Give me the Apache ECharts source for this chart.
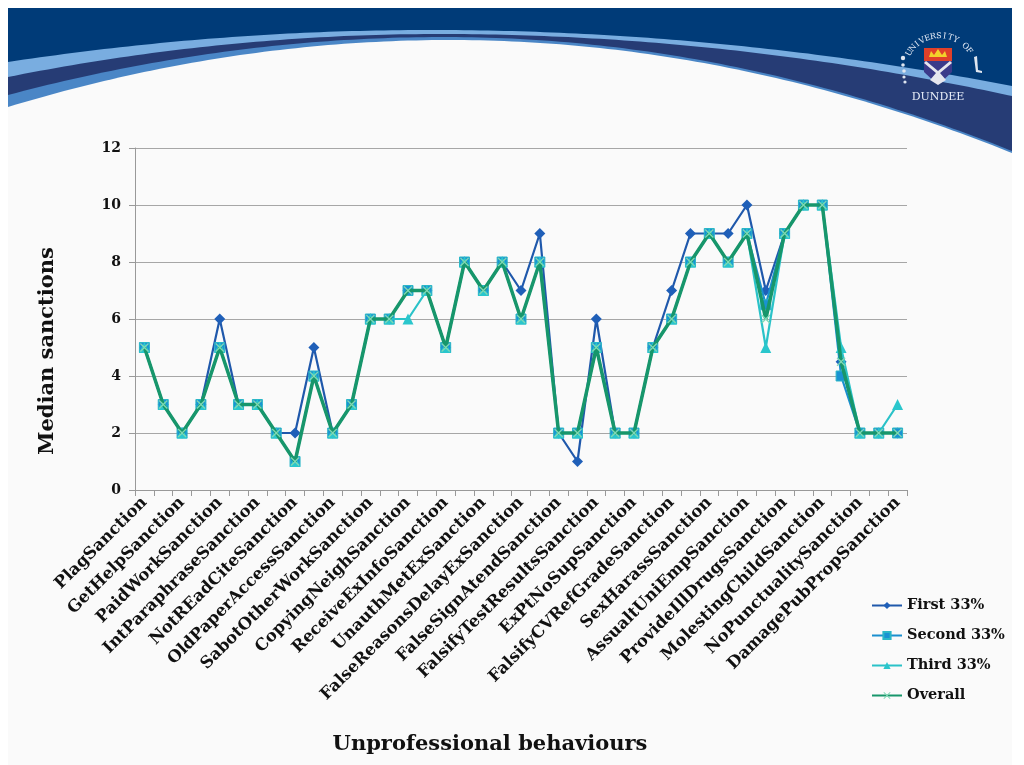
<!DOCTYPE html>
<html>
<head>
<meta charset="utf-8">
<script src="https://cdn.jsdelivr.net/npm/echarts@6/dist/echarts.min.js"></script>
<style>
  html, body { margin: 0; padding: 0; background: #ffffff; }
  #main { width: 1024px; height: 765px; }
</style>
</head>
<body>
<div id="main"></div>
<script>
// categories: only every other name is printed on the slide, the rest are unlabeled
var categories = [
  'PlagSanction', '', 'GetHelpSanction', '', 'PaidWorkSanction', '',
  'IntParaphraseSanction', '', 'NotREadCiteSanction', '', 'OldPaperAccessSanction', '',
  'SabotOtherWorkSanction', '', 'CopyingNeighSanction', '', 'ReceiveExInfoSanction', '',
  'UnauthMetExSanction', '', 'FalseReasonsDelayExSanction', '', 'FalseSignAtendSanction', '',
  'FalsifyTestResultsSanction', '', 'ExPtNoSupSanction', '', 'FalsifyCVRefGradeSanction', '',
  'SexHarassSanction', '', 'AssualtUniEmpSanction', '', 'ProvideIllDrugsSanction', '',
  'MolestingChildSanction', '', 'NoPunctualitySanction', '', 'DamagePubPropSanction'
];

var firstThird  = [5, 3, 2, 3, 6, 3, 3, 2, 2, 5, 2, 3, 6, 6, 7, 7, 5, 8, 7, 8, 7, 9, 2, 1, 6, 2, 2, 5, 7, 9, 9, 9, 10, 7, 9, 10, 10, 4.5, 2, 2, 2];
var secondThird = [5, 3, 2, 3, 5, 3, 3, 2, 1, 4, 2, 3, 6, 6, 7, 7, 5, 8, 7, 8, 6, 8, 2, 2, 5, 2, 2, 5, 6, 8, 9, 8, 9, 6.5, 9, 10, 10, 4, 2, 2, 2];
var thirdThird  = [5, 3, 2, 3, 5, 3, 3, 2, 1, 4, 2, 3, 6, 6, 6, 7, 5, 8, 7, 8, 6, 8, 2, 2, 5, 2, 2, 5, 6, 8, 9, 8, 9, 5, 9, 10, 10, 5, 2, 2, 3];
var overall     = [5, 3, 2, 3, 5, 3, 3, 2, 1, 4, 2, 3, 6, 6, 7, 7, 5, 8, 7, 8, 6, 8, 2, 2, 5, 2, 2, 5, 6, 8, 9, 8, 9, 6, 9, 10, 10, 4.5, 2, 2, 2];

var yTicks = [0, 2, 4, 6, 8, 10, 12];

var FONT = '"DejaVu Serif", "Liberation Serif", serif';

var chart = echarts.init(document.getElementById('main'));

// banner band: parabola on each side of the peak, filled down to y=220
function band(top, leftY, rightY, peakX) {
  var pts = [];
  for (var x = 8; x < 1012; x += 8) {
    var y = x < peakX
      ? top + (leftY - top) * Math.pow((peakX - x) / (peakX - 8), 2)
      : top + (rightY - top) * Math.pow((x - peakX) / (1012 - peakX), 2);
    pts.push([x, y]);
  }
  pts.push([1012, rightY], [1012, 220], [8, 220]);
  return pts;
}

// arc text for the logo
var logoText = 'UNIVERSITY OF';
var logoLetters = [];
for (var i = 0; i < logoText.length; i++) {
  var a = Math.PI * (0.82 - 0.62 * i / (logoText.length - 1));
  logoLetters.push({
    type: 'text',
    x: 940 + 36 * Math.cos(a),
    y: 72 - 36 * Math.sin(a),
    rotation: a - Math.PI / 2,
    style: { text: logoText[i], fill: '#e8eef8', font: '8px ' + FONT, align: 'center', verticalAlign: 'middle' }
  });
}

var option = {
  backgroundColor: '#ffffff',
  animation: false,
  graphic: [
    // slide
    { type: 'rect', z: -11, shape: { x: 8, y: 8, width: 1004, height: 757 }, style: { fill: '#fafafa' } },
    { type: 'rect', z: -10, shape: { x: 8, y: 8, width: 1004, height: 180 }, style: { fill: '#003b78' } },
    { type: 'polygon', z: -9, shape: { points: band(30, 62, 86, 430) }, style: { fill: '#79ade0' } },
    { type: 'polygon', z: -8, shape: { points: band(34, 77, 96, 440) }, style: { fill: '#263c75' } },
    { type: 'polygon', z: -7, shape: { points: band(37, 95, 151, 445) }, style: { fill: '#4a86c6' } },
    { type: 'polygon', z: -6, shape: { points: band(40, 107, 153, 450) }, style: { fill: '#fafafa' } },
    { type: 'rect', z: -6, shape: { x: 8, y: 200, width: 1004, height: 30 }, style: { fill: '#fafafa' } },
    // logo
    { type: 'group', z: -4, children: logoLetters.concat([
      { type: 'rect', shape: { x: 924, y: 48, width: 28, height: 13 }, style: { fill: '#e0402a' } },
      { type: 'polygon', shape: { points: [[929, 57], [931, 51], [934, 55], [938, 49], [942, 55], [945, 51], [947, 57]] }, style: { fill: '#f2d22a' } },
      { type: 'polygon', shape: { points: [[924, 61], [952, 61], [952, 72], [938, 85], [924, 72]] }, style: { fill: '#3b3a8a' } },
      { type: 'polygon', shape: { points: [[926, 61], [938, 71], [950, 61], [952, 63], [940, 73], [946, 80], [938, 85], [930, 80], [936, 73], [924, 63]] }, style: { fill: '#e6e6ee' } },
      { type: 'circle', shape: { cx: 903, cy: 58, r: 2.2 }, style: { fill: '#dfe6f0' } },
      { type: 'circle', shape: { cx: 903, cy: 65, r: 1.8 }, style: { fill: '#dfe6f0' } },
      { type: 'circle', shape: { cx: 904, cy: 71, r: 1.8 }, style: { fill: '#dfe6f0' } },
      { type: 'circle', shape: { cx: 904, cy: 77, r: 1.6 }, style: { fill: '#dfe6f0' } },
      { type: 'circle', shape: { cx: 905, cy: 82, r: 1.6 }, style: { fill: '#dfe6f0' } },
      { type: 'polygon', shape: { points: [[974, 57], [977, 56], [978, 70], [982, 71], [982, 73], [976, 72]] }, style: { fill: '#dfe6f0' } },
      { type: 'text', x: 938, y: 97, style: { text: 'DUNDEE', fill: '#e8eef8', font: '11px ' + FONT, align: 'center', verticalAlign: 'middle' } }
    ]) },
    // axis titles
    { type: 'text', x: 48, y: 351, rotation: Math.PI / 2, style: { text: 'Median sanctions', fill: '#111', font: 'bold 21px ' + FONT, align: 'center', verticalAlign: 'middle' } },
    { type: 'text', x: 490, y: 745, style: { text: 'Unprofessional behaviours', fill: '#111', font: 'bold 21px ' + FONT, align: 'center', verticalAlign: 'middle' } }
  ],
  grid: { left: 135, right: 117, top: 148, bottom: 275 },
  legend: {
    orient: 'vertical',
    left: 866,
    top: 593,
    itemGap: 15,
    itemWidth: 30,
    itemHeight: 9,
    textStyle: { fontFamily: FONT, fontWeight: 'bold', fontSize: 14.5, color: '#111' },
    data: ['First 33%', 'Second 33%', 'Third 33%', 'Overall']
  },
  xAxis: {
    type: 'category',
    data: categories,
    boundaryGap: true,
    axisLine: { lineStyle: { color: '#999', width: 1 } },
    axisTick: { show: true, interval: 0, length: 6, lineStyle: { color: '#999' } },
    axisLabel: {
      interval: 1,
      rotate: 45,
      margin: 10,
      fontFamily: FONT,
      fontWeight: 'bold',
      fontSize: 16.5,
      color: '#111'
    },
    splitLine: { show: false }
  },
  yAxis: {
    type: 'value',
    min: yTicks[0],
    max: yTicks[yTicks.length - 1],
    interval: 2,
    axisLine: { show: true, lineStyle: { color: '#999', width: 1 } },
    axisTick: { show: true, length: 6, lineStyle: { color: '#999' } },
    axisLabel: { margin: 14, fontFamily: FONT, fontWeight: 'bold', fontSize: 14, color: '#111' },
    splitLine: { show: true, lineStyle: { color: '#a6a6a6', width: 1 } }
  },
  series: [
    {
      name: 'First 33%',
      type: 'line',
      data: firstThird,
      symbol: 'diamond',
      symbolSize: 11,
      lineStyle: { color: '#1f58ab', width: 2.2 },
      itemStyle: { color: '#1f5fb8' },
      z: 2
    },
    {
      name: 'Second 33%',
      type: 'line',
      data: secondThird,
      symbol: 'rect',
      symbolSize: 10,
      lineStyle: { color: '#1a8fcf', width: 2.2 },
      itemStyle: { color: '#1a92d2', borderColor: '#2bb7c7', borderWidth: 1 },
      z: 3
    },
    {
      name: 'Third 33%',
      type: 'line',
      data: thirdThird,
      symbol: 'triangle',
      symbolSize: 11,
      lineStyle: { color: '#2ac2c8', width: 2.2 },
      itemStyle: { color: '#2ac6cc' },
      z: 4
    },
    {
      name: 'Overall',
      type: 'line',
      data: overall,
      symbol: 'path://M0,1L1,0L5,4L9,0L10,1L6,5L10,9L9,10L5,6L1,10L0,9L4,5Z',
      symbolSize: 9,
      lineStyle: { color: '#17966b', width: 3.5 },
      itemStyle: { color: '#7fd8b4' },
      z: 5
    }
  ]
};

chart.setOption(option);
</script>
</body>
</html>
